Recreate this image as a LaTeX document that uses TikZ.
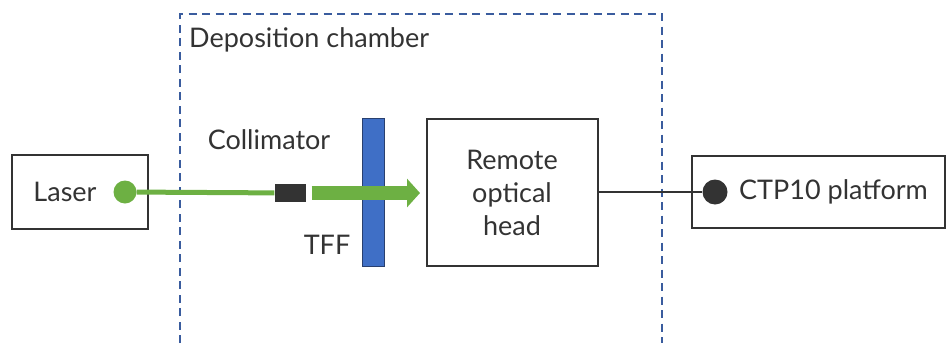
\documentclass[tikz,border=0pt]{standalone}
\usepackage{fontspec}
\setmainfont{Lato}
\usepackage{xcolor}
\usepackage{tikz}
\usetikzlibrary{arrows.meta,positioning,calc}

\definecolor{inkgray}{HTML}{333333}
\definecolor{beamgreen}{HTML}{6DB043}
\definecolor{filterblue}{HTML}{3F6FC6}
\definecolor{chamberblue}{HTML}{3A5C9E}

\begin{document}
\begin{tikzpicture}[
  x=1pt, y=-1pt,
  box/.style={rectangle, draw=inkgray, line width=2pt, align=center, inner sep=0pt},
  lbl/.style={text=inkgray, font=\fontsize{27}{33}\selectfont, inner sep=0pt, align=center},
  chamber/.style={draw=chamberblue, line width=1.8pt, dash pattern=on 8pt off 5.5pt},
  beam/.style={draw=beamgreen, line width=5pt},
  bigbeam/.style={draw=beamgreen, line width=14pt, -{Triangle[length=13pt, width=28pt]}},
  wire/.style={draw=inkgray, line width=2.5pt},
]
\useasboundingbox (0,0) rectangle (952,343);

% deposition chamber
\draw[chamber] (180,343) -- (180,14) -- (662,14) -- (662,343);
\node[lbl, anchor=west] (chambertxt) at (189,40) {Deposition chamber};

% laser side
\node[box, minimum width=136pt, minimum height=74pt] (laser) at (80,192) {};
\node[lbl] (lasertxt) at (65,192) {Laser};
\node[circle, fill=beamgreen, minimum size=23pt, inner sep=0pt] (laserdot) at (125,192) {};
\node[rectangle, fill=inkgray, minimum width=31pt, minimum height=18pt, inner sep=0pt] (collim) at (290,193) {};
\node[lbl] (collimtxt) at (269,140) {Collimator};

% thin film filter
\node[rectangle, fill=filterblue, draw=chamberblue!70!black, line width=1pt,
      minimum width=22pt, minimum height=148pt, inner sep=0pt] (tff) at (373,192) {};
\node[lbl] (tfftxt) at (327,245) {TFF};

% remote head and platform
\node[box, minimum width=171pt, minimum height=147pt] (head) at (512,192) {};
\node[lbl] (headtxt) at (512,193) {Remote\\optical\\head};
\node[box, minimum width=253pt, minimum height=72pt] (ctp) at (818,192) {};
\node[circle, fill=inkgray, minimum size=25pt, inner sep=0pt] (ctpdot) at (715,192) {};
\node[lbl, anchor=west] (ctptxt) at (739,192) {CTP10 platform};

\coordinate (beamend) at (420,193);

\draw[beam] (laserdot) -- (collim);
\draw[bigbeam] ($(collim.east)+(6,0)$) -- (beamend);
\draw[wire] (head.east) -- (ctpdot);
\end{tikzpicture}
\end{document}
